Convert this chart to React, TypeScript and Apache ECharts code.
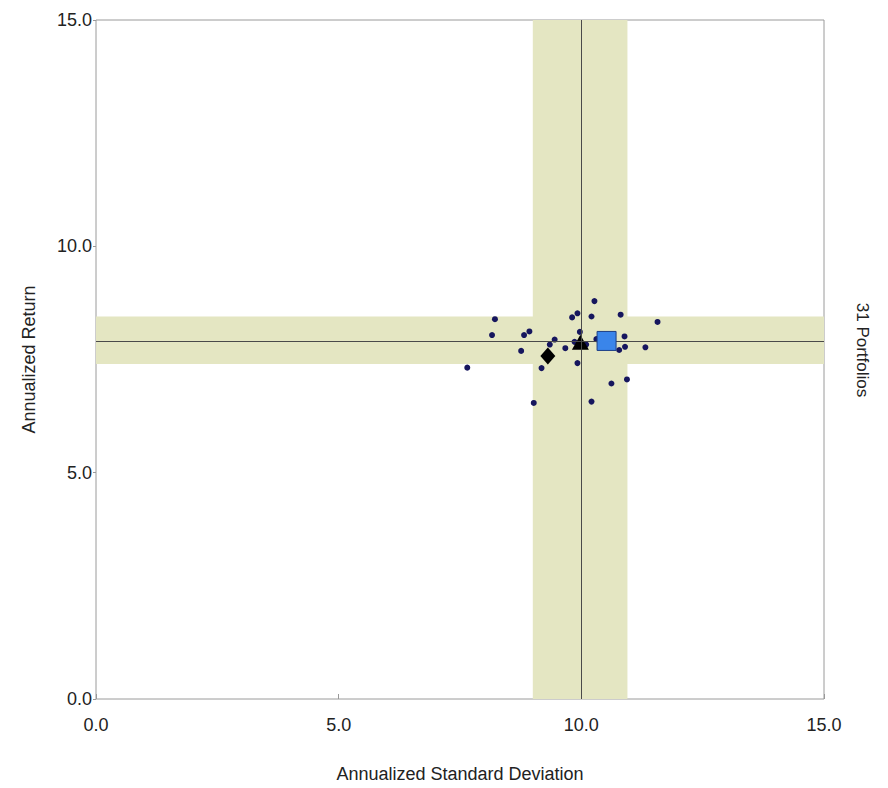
import React, { useEffect, useRef } from "react";
import * as echarts from "echarts";

const portfolioStdDev = [10.27, 9.92, 9.81, 10.21, 10.81, 8.22, 11.57, 8.16, 8.82, 8.93, 9.97, 9.45, 9.35, 9.86, 10.1, 10.31, 10.89, 10.9, 10.78, 11.32, 8.76, 9.67, 9.92, 9.18, 7.65, 10.94, 10.62, 9.02, 10.21, 10.52, 9.98];
const portfolioReturn = [8.79, 8.52, 8.43, 8.45, 8.49, 8.39, 8.33, 8.04, 8.04, 8.12, 8.11, 7.94, 7.83, 7.89, 7.83, 7.95, 8.01, 7.78, 7.71, 7.77, 7.69, 7.75, 7.42, 7.31, 7.32, 7.06, 6.97, 6.54, 6.57, 7.91, 7.86];
const squarePoint = [10.52, 7.91];
const trianglePoint = [9.98, 7.88];
const diamondPoint = [9.31, 7.58];
const verticalBand = [9.0, 10.95];
const horizontalBand = [7.4, 8.45];
const meanStdDev = 10.0;
const meanReturn = 7.9;
const axisTicks = [0, 5, 10, 15];
const portfolioCountLabel = "31 Portfolios";

export default function App() {
  const ref = useRef<HTMLDivElement>(null);
  useEffect(() => {
    if (!ref.current) return;
    const chart = echarts.init(ref.current, null, { renderer: "svg" });
    const font = "'Liberation Sans', Arial, sans-serif";
    const bandColor = "#e4e6c2";
    chart.setOption({
      animation: false,
      grid: {
        left: 96,
        top: 20,
        right: 64,
        bottom: 87,
        show: true,
        borderColor: "#9a9a9a",
        borderWidth: 1,
        backgroundColor: "#ffffff",
      },
      xAxis: {
        type: "value",
        min: axisTicks[0],
        max: axisTicks[axisTicks.length - 1],
        interval: 5,
        name: "Annualized Standard Deviation",
        nameLocation: "middle",
        nameGap: 66,
        nameTextStyle: { fontFamily: font, fontSize: 18, color: "#222" },
        axisLine: { show: false },
        axisTick: { show: true, inside: true, length: 5, lineStyle: { color: "#999" } },
        splitLine: { show: false },
        axisLabel: {
          fontFamily: font,
          fontSize: 18,
          color: "#222",
          margin: 17,
          formatter: (v: number) => v.toFixed(1),
        },
      },
      yAxis: {
        type: "value",
        min: axisTicks[0],
        max: axisTicks[axisTicks.length - 1],
        interval: 5,
        name: "Annualized Return",
        nameLocation: "middle",
        nameGap: 58,
        nameTextStyle: { fontFamily: font, fontSize: 18, color: "#222" },
        axisLine: { show: false },
        axisTick: { show: true, inside: false, length: 3, lineStyle: { color: "#999" } },
        splitLine: { show: false },
        axisLabel: {
          fontFamily: font,
          fontSize: 18,
          color: "#222",
          margin: 4,
          formatter: (v: number) => v.toFixed(1),
        },
      },
      graphic: [
        {
          type: "text",
          x: 862,
          y: 350,
          rotation: -Math.PI / 2,
          style: {
            text: portfolioCountLabel,
            fontFamily: font,
            fontSize: 17,
            fill: "#222",
            textAlign: "center",
            textVerticalAlign: "middle",
          },
        },
      ],
      series: [
        {
          type: "scatter",
          data: [],
          silent: true,
          z: 1,
          markArea: {
            silent: true,
            itemStyle: { color: bandColor, opacity: 1 },
            data: [
              [{ xAxis: verticalBand[0], yAxis: axisTicks[0] }, { xAxis: verticalBand[1], yAxis: axisTicks[axisTicks.length - 1] }],
              [{ xAxis: axisTicks[0], yAxis: horizontalBand[0] }, { xAxis: axisTicks[axisTicks.length - 1], yAxis: horizontalBand[1] }],
            ],
          },
          markLine: {
            silent: true,
            symbol: "none",
            label: { show: false },
            lineStyle: { color: "#4a4a4a", width: 1, type: "solid", opacity: 1 },
            data: [{ xAxis: meanStdDev }, { yAxis: meanReturn }],
          },
        },
        {
          type: "scatter",
          z: 3,
          symbol: "circle",
          symbolSize: 6,
          itemStyle: { color: "#16165e", opacity: 1 },
          data: portfolioStdDev.map((x, i) => [x, portfolioReturn[i]]),
        },
        {
          type: "scatter",
          z: 4,
          symbol: "diamond",
          symbolSize: [15, 17],
          itemStyle: { color: "#000", opacity: 1 },
          data: [diamondPoint],
        },
        {
          type: "scatter",
          z: 4,
          symbol: "triangle",
          symbolSize: [17, 15],
          itemStyle: { color: "#000", opacity: 1 },
          data: [trianglePoint],
        },
        {
          type: "scatter",
          z: 5,
          symbol: "rect",
          symbolSize: 19,
          itemStyle: { color: "#3a85ea", borderColor: "#1d3f86", borderWidth: 1, opacity: 1 },
          data: [squarePoint],
        },
      ],
    });
    return () => chart.dispose();
  }, []);
  return <div ref={ref} style={{ width: 888, height: 788, position: "absolute", left: 0, top: 0 }} />;
}
